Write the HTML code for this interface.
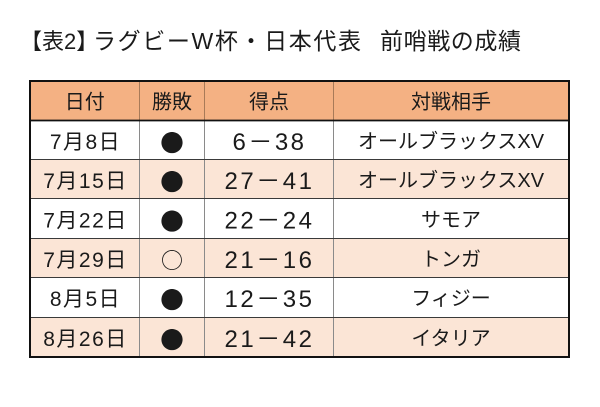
<!DOCTYPE html>
<html>
<head>
<meta charset="utf-8">
<style>
html,body{margin:0;padding:0;background:#fff;}
svg{display:block;}
text{font-family:"Liberation Sans","Noto Sans CJK JP",sans-serif;fill:#1a1a1a;}
.cjk{font-family:"Noto Sans CJK JP","Liberation Sans",sans-serif;}
</style>
</head>
<body>
<svg width="600" height="407" viewBox="0 0 600 407" xmlns="http://www.w3.org/2000/svg">
  <rect x="0" y="0" width="600" height="407" fill="#fff"/>
  <!-- title -->
  <text x="20" y="49" font-size="22">【表2】</text>
  <text x="93" y="49" font-size="23" textLength="268" lengthAdjust="spacing">ラグビーW杯・日本代表</text>
  <text x="380" y="49" font-size="23" textLength="141" lengthAdjust="spacing">前哨戦の成績</text>

  <!-- row backgrounds -->
  <rect x="30" y="81" width="539" height="39.5" fill="#F4B183"/>
  <rect x="30" y="120.5" width="539" height="39" fill="#FFFFFF"/>
  <rect x="30" y="159.5" width="539" height="39" fill="#FBE5D6"/>
  <rect x="30" y="198.5" width="539" height="40" fill="#FFFFFF"/>
  <rect x="30" y="238.5" width="539" height="39" fill="#FBE5D6"/>
  <rect x="30" y="277.5" width="539" height="39.5" fill="#FFFFFF"/>
  <rect x="30" y="317" width="539" height="40" fill="#FBE5D6"/>

  <!-- vertical lines header -->
  <g stroke="#a87a58" stroke-width="1">
    <line x1="139.5" y1="81" x2="139.5" y2="120.5"/>
    <line x1="204.5" y1="81" x2="204.5" y2="120.5"/>
    <line x1="333.5" y1="81" x2="333.5" y2="120.5"/>
  </g>
  <!-- vertical lines body -->
  <g stroke="#8a8a8a" stroke-width="1">
    <line x1="139.5" y1="120.5" x2="139.5" y2="357"/>
    <line x1="204.5" y1="120.5" x2="204.5" y2="357"/>
    <line x1="333.5" y1="120.5" x2="333.5" y2="357"/>
  </g>
  <!-- horizontal lines -->
  <g stroke="#3a3a3a" stroke-width="1">
    <line x1="30" y1="159.5" x2="569" y2="159.5"/>
    <line x1="30" y1="198.5" x2="569" y2="198.5"/>
    <line x1="30" y1="238.5" x2="569" y2="238.5"/>
    <line x1="30" y1="277.5" x2="569" y2="277.5"/>
    <line x1="30" y1="317.5" x2="569" y2="317.5"/>
  </g>
  <line x1="30" y1="120.5" x2="569" y2="120.5" stroke="#111" stroke-width="1.8"/>
  <!-- outer border -->
  <rect x="30" y="81" width="539" height="276" fill="none" stroke="#111" stroke-width="2"/>

  <!-- header text -->
  <g font-size="20" text-anchor="middle">
    <text class="cjk" x="84.75" y="108.5">日付</text>
    <text class="cjk" x="172" y="108.5">勝敗</text>
    <text class="cjk" x="269" y="108.5">得点</text>
    <text class="cjk" x="451" y="108.5">対戦相手</text>
  </g>

  <!-- dates -->
  <g font-size="21" text-anchor="middle" letter-spacing="1.5">
    <text x="85.5" y="149">7月8日</text>
    <text x="85.5" y="188">7月15日</text>
    <text x="85.5" y="227.5">7月22日</text>
    <text x="85.5" y="267">7月29日</text>
    <text x="85.5" y="306">8月5日</text>
    <text x="85.5" y="346">8月26日</text>
  </g>

  <!-- results -->
  <g font-size="23.5" text-anchor="middle">
    <text class="cjk" x="172" y="151.5">●</text>
    <text class="cjk" x="172" y="190.5">●</text>
    <text class="cjk" x="172" y="230">●</text>
    <text class="cjk" x="172" y="268.5" font-size="22">○</text>
    <text class="cjk" x="172" y="308.5">●</text>
    <text class="cjk" x="172" y="348.5">●</text>
  </g>

  <!-- scores -->
  <g font-size="24" text-anchor="middle" letter-spacing="2.5">
    <text x="269.5" y="150">6－38</text>
    <text x="269.5" y="189">27－41</text>
    <text x="269.5" y="228.5">22－24</text>
    <text x="269.5" y="268">21－16</text>
    <text x="269.5" y="307">12－35</text>
    <text x="269.5" y="347">21－42</text>
  </g>

  <!-- opponents -->
  <g font-size="20" text-anchor="middle">
    <text x="451" y="148">オールブラックスXV</text>
    <text x="451" y="187">オールブラックスXV</text>
    <text x="451" y="226.5">サモア</text>
    <text x="451" y="266">トンガ</text>
    <text x="451" y="305">フィジー</text>
    <text x="451" y="345">イタリア</text>
  </g>
</svg>
</body>
</html>
